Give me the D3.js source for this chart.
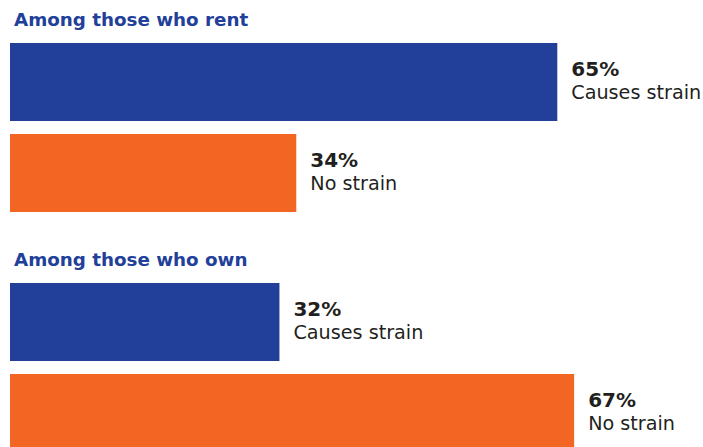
<!DOCTYPE html>
<html>
<head>
<meta charset="utf-8">
<script src="https://cdn.jsdelivr.net/npm/d3@7"></script>
<style>
  html, body { margin: 0; padding: 0; background: #fff; }
  svg { display: block; }
  text { font-family: "DejaVu Sans", "Noto Sans", sans-serif; }
</style>
</head>
<body>
<svg id="chart" width="703" height="447"></svg>
<script>
// Housing cost strain by tenure
const groups = ["Among those who rent", "Among those who own"];
const categories = ["Causes strain", "No strain"];
const rentValues = [65, 34];
const ownValues = [32, 67];

const colors = { "Causes strain": "#22409a", "No strain": "#f26522" };

const svg = d3.select("#chart");
const left = 10;

const x = d3.scaleLinear().domain([0, 100]).range([0, 842]);

// vertical layout of each group panel
const panelTop = d3.scaleOrdinal().domain(groups).range([0, 240]);
const y = d3.scaleBand().domain(categories).range([43, 212]).paddingInner(13 / 91).paddingOuter(0);

const seriesByGroup = [rentValues, ownValues];

groups.forEach((g, gi) => {
  const panel = svg.append("g").attr("transform", `translate(0,${panelTop(g)})`);

  panel.append("text")
    .attr("x", 14)
    .attr("y", 26)
    .attr("fill", "#22409a")
    .attr("font-weight", 700)
    .attr("font-size", 18.3)
    .text(g);

  const rows = categories.map((c, i) => ({ cat: c, value: seriesByGroup[gi][i] }));

  panel.selectAll("rect")
    .data(rows)
    .join("rect")
    .attr("x", left)
    .attr("y", d => y(d.cat))
    .attr("width", d => x(d.value))
    .attr("height", y.bandwidth())
    .attr("fill", d => colors[d.cat]);

  const lab = panel.selectAll("g.lab")
    .data(rows)
    .join("g")
    .attr("class", "lab")
    .attr("transform", d => `translate(${left + x(d.value) + 14},${y(d.cat) + y.bandwidth() / 2})`);

  lab.append("text")
    .attr("y", -6)
    .attr("fill", "#231f20")
    .attr("font-weight", 700)
    .attr("font-size", 20)
    .text(d => d.value + "%");

  lab.append("text")
    .attr("y", 17)
    .attr("fill", "#231f20")
    .attr("font-size", 19.2)
    .text(d => d.cat);
});
</script>
</body>
</html>
